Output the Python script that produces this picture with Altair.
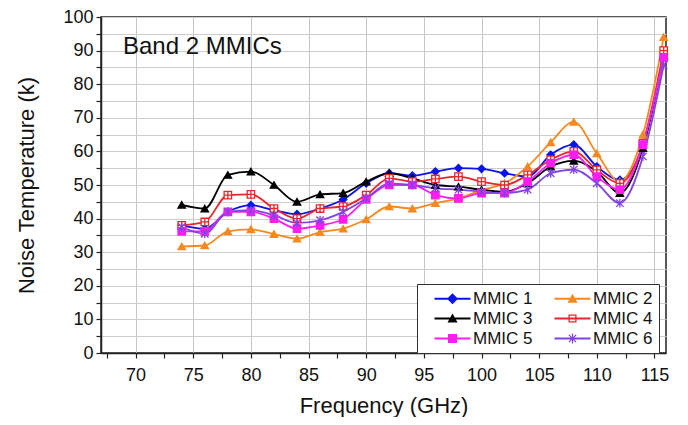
import altair as alt
import pandas as pd

freq = [74, 76, 78, 80, 82, 84, 86, 88, 90, 92, 94, 96, 98, 100, 102, 104, 106, 108, 110, 112, 114, 115.8]

mmic1 = [38, 37, 42, 44, 42.5, 41.3, 43, 45.7, 50.5, 53.5, 52.8, 54, 55, 54.8, 53.5, 52.5, 59, 62, 55.5, 51.5, 62, 89]
mmic2 = [31.7, 32, 36.2, 36.8, 35.4, 34, 36, 37, 39.8, 43.6, 43, 44.6, 46, 48.5, 50.5, 55.5, 62.7, 68.8, 59.4, 51, 65, 94]
mmic3 = [44.1, 43, 53, 54, 50, 45, 47.2, 47.6, 51, 53.5, 52, 50, 49.5, 48.6, 48, 50.5, 55.5, 57.2, 54, 47.6, 61, 88.5]
mmic4 = [38, 39, 47, 47.2, 43, 40, 43, 43.6, 47, 52, 51, 51.8, 52.5, 51, 50, 53, 57.5, 60, 54.5, 50.5, 62.4, 90]
mmic5 = [36.2, 36.2, 42, 42, 40, 37, 38, 39.8, 45.7, 50, 50, 47, 46, 47.6, 47.6, 51, 56.5, 59, 52.5, 48.6, 62, 88]
mmic6 = [37.5, 35.5, 42, 42.5, 41, 38.7, 39.5, 42, 46, 50.5, 50, 49, 48.6, 48, 47.6, 48.6, 53.5, 54.6, 50.5, 44.6, 58.5, 85.7]

series = ["MMIC 1", "MMIC 2", "MMIC 3", "MMIC 4", "MMIC 5", "MMIC 6"]
colors = ["#0a14e6", "#f5891f", "#000000", "#e8262b", "#ff1cf0", "#8142e6"]
fills = ["#0a14e6", "#f5891f", "#000000", "#ffffff", "#ff1cf0", "transparent"]

x_ticks = [67.5 + 2.5 * i for i in range(20)]
y_ticks = list(range(0, 101, 5))

# plot marker shapes
marker_shapes = [
    "diamond",
    "triangle-up",
    "triangle-up",
    "M-1,-1H1V1H-1Z M-1,0H1 M0,-1V1",
    "square",
    "M-1,-1L1,1 M-1,1L1,-1 M0,-1.2V1.2",
]

# legend symbols: line + marker (filled paths)
LINE = "M-3.6,-0.18H3.6V0.18H-3.6Z "
legend_shapes = [
    LINE + "M0,-1.1L1.1,0L0,1.1L-1.1,0Z",
    LINE + "M0,-1L1,0.8H-1Z",
    LINE + "M0,-1L1,0.8H-1Z",
    LINE + "M-0.8,-0.8H0.8V0.8H-0.8Z M-0.55,-0.55V0.55H0.55V-0.55Z",
    LINE + "M-0.9,-0.9H0.9V0.9H-0.9Z",
    LINE + "M-0.12,-1H0.12V1H-0.12Z M-0.8,-0.63L-0.63,-0.8L0.8,0.63L0.63,0.8Z M-0.8,0.63L0.63,-0.8L0.8,-0.63L-0.63,0.8Z",
]

rows = []
for name, vals in zip(series, [mmic1, mmic2, mmic3, mmic4, mmic5, mmic6]):
    for f, v in zip(freq, vals):
        rows.append({"series": name, "freq": f, "val": v})
df = pd.DataFrame(rows)

legend_df = pd.DataFrame({"entry": series, "freq": [0] * 6, "val": [0] * 6})

FONT = "Liberation Sans"

x_scale = alt.Scale(domain=[67, 116], nice=False, zero=False)
y_scale = alt.Scale(domain=[0, 100], nice=False)

x_axis = alt.Axis(
    title="Frequency (GHz)",
    values=x_ticks,
    labelExpr="datum.value % 5 === 0 ? datum.label : ''",
    labelOverlap=False,
    grid=True,
    gridColor="#c6c6c6",
    gridOpacity={"condition": {"test": "datum.value % 5 === 0", "value": 1}, "value": 0},
    tickSize=5,
    labelPadding=8,
    titlePadding=11,
)
y_axis = alt.Axis(
    title="Noise Temperature (k)",
    values=y_ticks,
    labelExpr="datum.value % 10 === 0 ? datum.label : ''",
    labelOverlap=False,
    grid=True,
    gridColor="#cdcdcd",
    tickSize=5,
    labelPadding=3,
    titlePadding=24,
)

x_enc = alt.X("freq:Q", scale=x_scale, axis=x_axis)
y_enc = alt.Y("val:Q", scale=y_scale, axis=y_axis)

color_scale = alt.Scale(domain=series, range=colors)

lines = alt.Chart(df).mark_line(interpolate="monotone", strokeWidth=1.8).encode(
    x=x_enc,
    y=y_enc,
    color=alt.Color("series:N", scale=color_scale, legend=None),
    detail="series:N",
)

points = alt.Chart(df).mark_point(filled=False, opacity=1, size=55, strokeWidth=1.3).encode(
    x=x_enc,
    y=y_enc,
    color=alt.Color("series:N", scale=color_scale, legend=None),
    fill=alt.Fill("series:N", scale=alt.Scale(domain=series, range=fills), legend=None),
    shape=alt.Shape("series:N", scale=alt.Scale(domain=series, range=marker_shapes), legend=None),
)

leg = alt.Legend(
    title=None,
    orient="none",
    legendX=316,
    legendY=267,
    columns=2,
    direction="horizontal",
    symbolSize=100,
    symbolOffset=21,
    labelOffset=12,
    labelFont=FONT,
    labelFontSize=17,
    labelColor="#111111",
    fillColor="white",
    strokeColor="#333333",
    padding=6,
    rowPadding=2,
    columnPadding=10,
    symbolStrokeWidth=0,
)

legend_layer = alt.Chart(legend_df).mark_point(filled=True, opacity=1, clip=True).encode(
    x=x_enc,
    y=y_enc,
    color=alt.Color("entry:N", scale=alt.Scale(domain=series, range=colors), legend=leg),
    shape=alt.Shape("entry:N", scale=alt.Scale(domain=series, range=legend_shapes), legend=leg),
)

label = alt.Chart(pd.DataFrame({"t": ["Band 2 MMICs"]})).mark_text(
    align="left", baseline="middle", font=FONT, fontSize=24, color="#111111"
).encode(x=alt.value(22), y=alt.value(30), text="t:N")

chart = (
    alt.layer(lines, points, legend_layer, label)
    .resolve_scale(color="independent", shape="independent", fill="independent")
    .properties(
        width=565,
        height=336,
        autosize=alt.AutoSizeParams(type="none"),
        padding={"left": 93, "top": 9, "right": 14, "bottom": 64},
    )
    .configure_view(stroke="#222222", strokeWidth=1.5)
    .configure_axis(
        labelFont=FONT,
        titleFont=FONT,
        labelFontSize=18,
        titleFontSize=22,
        titleFontWeight="normal",
        labelColor="#111111",
        titleColor="#111111",
        domainColor="#222222",
        domainWidth=1.5,
        tickColor="#222222",
        tickWidth=1.2,
        gridWidth=1,
    )
)

chart.save("out.html", embed_options={"renderer": "svg", "actions": False})
